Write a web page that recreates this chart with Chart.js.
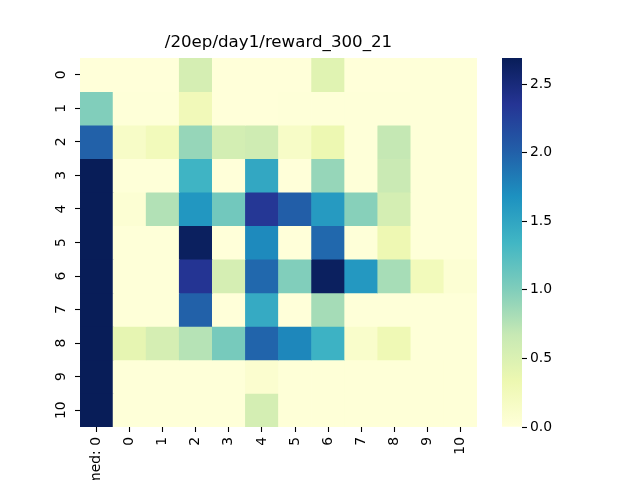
<!DOCTYPE html>
<html><head><meta charset="utf-8">
<script src="https://cdn.jsdelivr.net/npm/chart.js@4/dist/chart.umd.min.js"></script>
<style>html,body{margin:0;padding:0;background:#fff;overflow:hidden}
#wrap{position:relative;width:640px;height:480px;background:#fff}
canvas{position:absolute;left:0;top:0}</style></head>
<body><div id="wrap"><canvas id="hm" width="640" height="480"></canvas><canvas id="cb" width="640" height="480"></canvas></div>
<script>
const chartTitle = "/20ep/day1/reward_300_21";
const colLabels = ["Unnamed: 0","0","1","2","3","4","5","6","7","8","9","10"];
const rowLabels = ["0","1","2","3","4","5","6","7","8","9","10"];
const row0  = [0.00,0.00,0.00,0.55,0.00,0.00,0.00,0.45,0.00,0.00,0.01,0.01];
const row1  = [1.00,0.01,0.01,0.27,0.00,0.00,0.01,0.01,0.01,0.01,0.01,0.01];
const row2  = [2.00,0.15,0.25,0.90,0.57,0.60,0.15,0.33,0.01,0.68,0.01,0.01];
const row3  = [2.69,0.01,0.01,1.36,0.00,1.48,0.00,0.90,0.01,0.65,0.01,0.01];
const row4  = [2.69,0.05,0.77,1.63,1.08,2.33,2.02,1.60,0.97,0.56,0.01,0.01];
const row5  = [2.69,0.01,0.01,2.65,0.00,1.73,0.00,1.95,0.01,0.32,0.01,0.01];
const row6  = [2.69,0.01,0.01,2.36,0.55,1.95,1.00,2.65,1.62,0.82,0.25,0.05];
const row7  = [2.69,0.01,0.01,2.00,0.00,1.45,0.00,0.83,0.01,0.01,0.01,0.01];
const row8  = [2.69,0.40,0.55,0.75,1.05,1.98,1.75,1.38,0.12,0.30,0.01,0.01];
const row9  = [2.69,0.01,0.01,0.01,0.01,0.08,0.02,0.02,0.02,0.02,0.02,0.02];
const row10 = [2.69,0.01,0.01,0.01,0.01,0.56,0.02,0.02,0.02,0.02,0.02,0.02];
const rows = [row0,row1,row2,row3,row4,row5,row6,row7,row8,row9,row10];
const vmin = 0, vmax = 2.69;
const cbTicks = [0,0.5,1.0,1.5,2.0,2.5];

const stops = ["#ffffd9","#edf8b1","#c7e9b4","#7fcdbb","#41b6c4","#1d91c0","#225ea8","#253494","#081d58"];
function hex(h){return [parseInt(h.slice(1,3),16),parseInt(h.slice(3,5),16),parseInt(h.slice(5,7),16)];}
const stopRGB = stops.map(hex);
function cmap(v){
  let t=(v-vmin)/(vmax-vmin); t=Math.max(0,Math.min(1,t));
  const p=t*(stops.length-1); const i=Math.min(Math.floor(p),stops.length-2); const f=p-i;
  const a=stopRGB[i], b=stopRGB[i+1];
  return 'rgb('+a.map((c,k)=>Math.round(c+(b[k]-c)*f)).join(',')+')';
}
const font = {family:'DejaVu Sans', size:13.9, weight:'normal'};
const tickGrid = {display:true, drawOnChartArea:false, offset:false, tickLength:5, tickWidth:1.1, tickColor:'#000', color:'#000'};

// y tick labels, rotated 90° counter-clockwise, centred on the scale's own tick pixels
const rotatedYLabels = {
  id:'rotatedYLabels',
  afterDraw(chart){
    const s = chart.scales.y, c = chart.ctx;
    c.save();
    c.font = '13.9px "DejaVu Sans"';
    c.fillStyle = '#000';
    c.textAlign = 'center';
    c.textBaseline = 'middle';
    s.ticks.forEach((t,i)=>{
      const y = s.getPixelForValue(t.value);
      c.setTransform(0, -1, 1, 0, s.right - 19, y);
      c.fillText(rowLabels[i], 0, 0);
    });
    c.setTransform(1,0,0,1,0,0);
    c.restore();
  }
};

new Chart(document.getElementById('hm'), {
  type:'bar',
  data:{labels:colLabels, datasets:rows.map((vals,r)=>({
    data:vals.map(()=>[r,r+1]),
    backgroundColor:vals.map(v=>cmap(v)),
    borderWidth:0, grouped:false, barPercentage:1, categoryPercentage:1
  }))},
  plugins:[rotatedYLabels],
  options:{responsive:false, animation:false, devicePixelRatio:1,
    layout:{padding:{left:0,right:163,top:0,bottom:0}},
    plugins:{legend:{display:false}, tooltip:{enabled:false},
      title:{display:true, text:chartTitle, fullSize:false, color:'#000',
        font:{family:'DejaVu Sans', size:16.67, weight:'normal'}, padding:{top:33,bottom:5}}},
    scales:{
      x:{type:'category', grid:tickGrid, border:{display:false},
        ticks:{color:'#000', font:font, minRotation:90, maxRotation:90, autoSkip:false, padding:5},
        afterFit:s=>{s.height=53;}},
      y:{type:'linear', min:0, max:11, reverse:true, grid:tickGrid, border:{display:false},
        afterBuildTicks:s=>{s.ticks=rowLabels.map((l,i)=>({value:i+0.5}));},
        ticks:{display:false},
        afterFit:s=>{s.width=80;}}
    }
  }
});

new Chart(document.getElementById('cb'), {
  type:'bar',
  data:{labels:[''], datasets:[{data:[[vmin,vmax]], borderWidth:0, barPercentage:1, categoryPercentage:1,
    backgroundColor:(ctx)=>{const a=ctx.chart.chartArea; if(!a) return '#fff';
      const g=ctx.chart.ctx.createLinearGradient(0,a.bottom,0,a.top);
      stops.forEach((c,i)=>g.addColorStop(i/(stops.length-1),c)); return g;}}]},
  options:{responsive:false, animation:false, devicePixelRatio:1,
    layout:{padding:{left:502,right:80,top:58,bottom:53}},
    plugins:{legend:{display:false}, tooltip:{enabled:false}},
    scales:{
      x:{display:false},
      y:{position:'right', min:vmin, max:vmax, grid:{display:true, drawOnChartArea:false, tickLength:5, tickWidth:1.1, tickColor:'#000'},
        border:{display:false},
        afterBuildTicks:s=>{s.ticks=cbTicks.map(v=>({value:v}));},
        ticks:{color:'#000', font:font, padding:3, callback:(v)=>Number(v).toFixed(1)},
        afterFit:s=>{s.width=38;}}
    }
  }
});
</script></body></html>
